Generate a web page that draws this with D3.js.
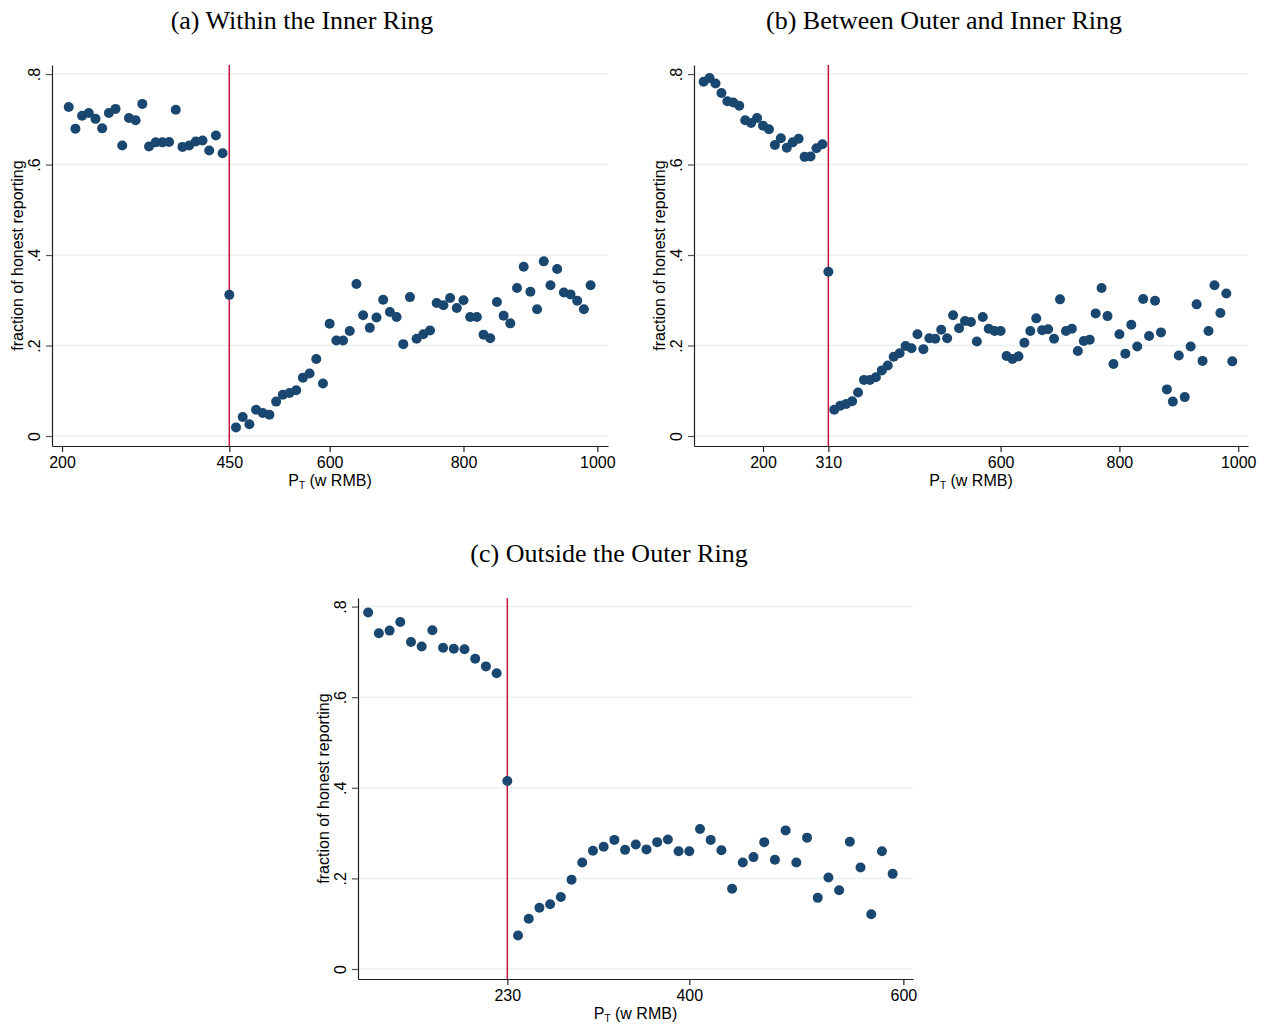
<!DOCTYPE html>
<html>
<head>
<meta charset="utf-8">
<script src="https://cdn.jsdelivr.net/npm/d3@7"></script>
<style>
  body { margin: 0; background: #fff; }
  svg { display: block; }
  .tick text { font-family: "Liberation Sans", Arial, sans-serif; font-size: 16px; fill: #000; }
  .title { font-family: "Liberation Serif", "Times New Roman", serif; font-size: 26px; fill: #000; }
  .axis-title { font-family: "Liberation Sans", Arial, sans-serif; font-size: 16px; fill: #000; }
</style>
</head>
<body>
<div id="chart"></div>
<script>
// --- Data ---
const yTicks = [0, 0.2, 0.4, 0.6, 0.8];

// (a) Within the Inner Ring, cutoff 450
const aCut = 450;
const aTicks = [200, 450, 600, 800, 1000];
const aX = [210,220,230,240,250,260,270,280,290,300,310,320,330,340,350,360,370,380,390,400,410,420,430,440,
  450,
  460,470,480,490,500,510,520,530,540,550,560,570,580,590,600,610,620,630,640,650,660,670,680,690,700,
  710,720,730,740,750,760,770,780,790,800,810,820,830,840,850,860,870,880,890,900,910,920,930,940,950,
  960,970,980,990];
const aY = [0.727,0.679,0.708,0.714,0.701,0.680,0.714,0.723,0.642,0.703,0.698,0.734,0.640,0.649,0.649,0.650,
  0.721,0.639,0.642,0.651,0.653,0.631,0.664,0.625,
  0.312,
  0.019,0.042,0.026,0.058,0.051,0.047,0.076,0.091,0.095,0.101,0.129,0.138,0.170,0.116,0.248,0.211,0.211,
  0.232,0.336,0.267,0.239,0.262,0.301,0.274,0.263,0.203,0.307,0.215,0.225,0.233,0.294,0.289,0.305,0.283,
  0.300,0.263,0.263,0.224,0.216,0.296,0.266,0.249,0.327,0.374,0.319,0.280,0.386,0.333,0.369,0.317,0.313,
  0.299,0.280,0.333];

// (b) Between Outer and Inner Ring, cutoff 310
const bCut = 310;
const bTicks = [200, 310, 600, 800, 1000];
const bX = [100,110,120,130,140,150,160,170,180,190,200,210,220,230,240,250,260,270,280,290,300,
  310,
  320,330,340,350,360,370,380,390,400,410,420,430,440,450,460,470,480,490,500,510,520,530,540,550,
  560,570,580,590,600,610,620,630,640,650,660,670,680,690,700,710,720,730,740,750,760,770,780,790,
  800,810,820,830,840,850,860,870,880,890,900,910,920,930,940,950,960,970,980,990];
const bY = [0.783,0.791,0.779,0.758,0.740,0.737,0.730,0.698,0.692,0.703,0.686,0.678,0.643,0.658,0.637,
  0.649,0.657,0.617,0.618,0.636,0.645,
  0.363,
  0.058,0.067,0.071,0.077,0.096,0.124,0.124,0.130,0.145,0.156,0.175,0.183,0.199,0.194,0.225,0.192,
  0.216,0.215,0.235,0.216,0.267,0.238,0.254,0.252,0.209,0.263,0.237,0.232,0.232,0.177,0.170,0.176,
  0.206,0.232,0.260,0.234,0.236,0.215,0.302,0.232,0.237,0.188,0.210,0.213,0.271,0.327,0.265,0.159,
  0.225,0.182,0.246,0.198,0.303,0.221,0.299,0.229,0.103,0.076,0.178,0.086,0.198,0.291,0.166,0.232,
  0.333,0.272,0.315,0.165];

// (c) Outside the Outer Ring, cutoff 230
const cCut = 230;
const cTicks = [230, 400, 600];
const cX = [100,110,120,130,140,150,160,170,180,190,200,210,220,
  230,
  240,250,260,270,280,290,300,310,320,330,340,350,360,370,380,390,400,410,420,430,440,450,460,470,
  480,490,500,510,520,530,540,550,560,570,580,590];
const cY = [0.787,0.741,0.747,0.766,0.722,0.712,0.748,0.709,0.707,0.706,0.685,0.668,0.653,
  0.415,
  0.074,0.111,0.135,0.143,0.159,0.197,0.235,0.261,0.270,0.285,0.263,0.275,0.264,0.280,0.286,0.260,
  0.260,0.309,0.285,0.262,0.177,0.235,0.247,0.280,0.241,0.306,0.235,0.290,0.157,0.202,0.174,0.281,
  0.224,0.121,0.260,0.210];

// --- Layout ---
const width = 1270, height = 1026;
const navy = '#1a476f', cutColor = '#c5163f', grid = '#e9f1f2';

const svg = d3.select('#chart').append('svg')
  .attr('width', width)
  .attr('height', height);

const panels = [
  { title: '(a) Within the Inner Ring', titleX: 302, titleY: 29,
    left: 52, right: 608, top: 65, bottom: 446,
    xDomain: [185, 1016], yDomain: [-0.0221, 0.82],
    ticks: aTicks, cut: aCut, xs: aX, ys: aY },
  { title: '(b) Between Outer and Inner Ring', titleX: 944, titleY: 29,
    left: 694, right: 1248, top: 65, bottom: 446,
    xDomain: [83.8, 1016.5], yDomain: [-0.0221, 0.82],
    ticks: bTicks, cut: bCut, xs: bX, ys: bY },
  { title: '(c) Outside the Outer Ring', titleX: 609, titleY: 562,
    left: 358, right: 913, top: 598, bottom: 979,
    xDomain: [90.5, 609], yDomain: [-0.0221, 0.819],
    ticks: cTicks, cut: cCut, xs: cX, ys: cY }
];

panels.forEach(drawPanel);

function drawPanel(p) {
  const x = d3.scaleLinear().domain(p.xDomain).range([p.left, p.right]);
  const y = d3.scaleLinear().domain(p.yDomain).range([p.bottom, p.top]);
  const g = svg.append('g');

  // title
  g.append('text')
    .attr('class', 'title')
    .attr('x', p.titleX)
    .attr('y', p.titleY)
    .attr('text-anchor', 'middle')
    .text(p.title);

  // gridlines
  g.append('g').selectAll('line')
    .data(yTicks)
    .join('line')
    .attr('x1', p.left + 1)
    .attr('x2', p.right)
    .attr('y1', d => y(d))
    .attr('y2', d => y(d))
    .attr('stroke', grid)
    .attr('stroke-width', 1.5);

  // cutoff line
  g.append('line')
    .attr('x1', x(p.cut)).attr('x2', x(p.cut))
    .attr('y1', p.top).attr('y2', p.bottom)
    .attr('stroke', cutColor)
    .attr('stroke-width', 1.5);

  // points
  g.append('g').selectAll('circle')
    .data(p.xs.map((v, i) => [v, p.ys[i]]))
    .join('circle')
    .attr('cx', d => x(d[0]))
    .attr('cy', d => y(d[1]))
    .attr('r', 5)
    .attr('fill', navy);

  // y axis
  const yAxis = g.append('g')
    .attr('transform', `translate(${p.left},0)`)
    .call(d3.axisLeft(y).tickValues(yTicks).tickSize(6).tickSizeOuter(0)
      .tickFormat(d => d === 0 ? '0' : d3.format('.1f')(d).replace('0.', '.')));
  yAxis.select('.domain').attr('stroke', '#222').attr('stroke-width', 1.2);
  yAxis.selectAll('.tick line').attr('stroke', '#555').attr('stroke-width', 1.2);
  yAxis.selectAll('.tick text')
    .attr('x', null)
    .attr('dy', null)
    .attr('text-anchor', 'middle')
    .attr('transform', 'translate(-12.5,0) rotate(-90)');

  // x axis
  const xAxis = g.append('g')
    .attr('transform', `translate(0,${p.bottom})`)
    .call(d3.axisBottom(x).tickValues(p.ticks).tickSize(6).tickSizeOuter(0).tickPadding(5)
      .tickFormat(d3.format('d')));
  xAxis.select('.domain').attr('stroke', '#222').attr('stroke-width', 1.2);
  xAxis.selectAll('.tick line').attr('stroke', '#222').attr('stroke-width', 1.2);

  // axis titles
  g.append('text')
    .attr('class', 'axis-title')
    .attr('transform', `translate(${p.left - 29},${(p.top + p.bottom) / 2}) rotate(-90)`)
    .attr('text-anchor', 'middle')
    .text('fraction of honest reporting');

  const xt = g.append('text')
    .attr('class', 'axis-title')
    .attr('x', x((p.xDomain[0] + p.xDomain[1]) / 2))
    .attr('y', p.bottom + 40)
    .attr('text-anchor', 'middle');
  xt.append('tspan').text('P');
  xt.append('tspan').attr('font-size', 10).attr('dy', 3).text('T');
  xt.append('tspan').attr('dy', -3).text(' (w RMB)');
}
</script>
</body>
</html>
